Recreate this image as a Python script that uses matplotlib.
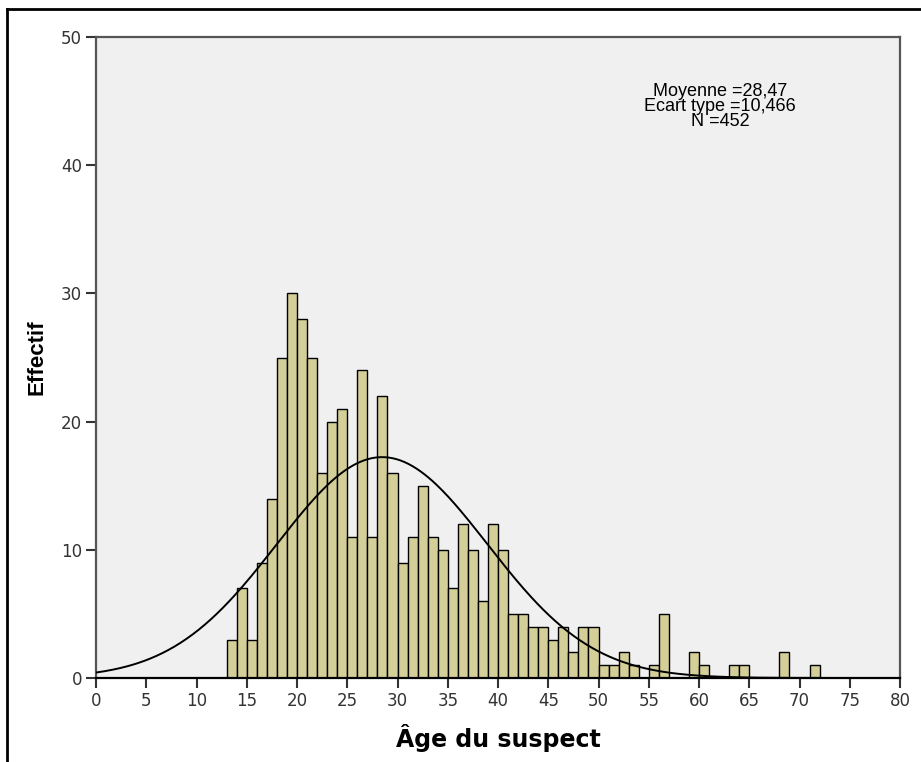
import numpy as np
from matplotlib import pyplot as plt
from matplotlib.lines import Line2D

# age -> count (ages with no bar are simply left out)
ages = [13, 14, 15, 16, 17, 18, 19, 20, 21, 22, 23, 24, 25, 26, 27, 28, 29, 30,
        31, 32, 33, 34, 35, 36, 37, 38, 39, 40, 41, 42, 43, 44, 45, 46, 47, 48,
        49, 50, 51, 52, 53, 55, 56, 59, 60, 63, 64, 68, 71]
counts = [3, 7, 3, 9, 14, 25, 30, 28, 25, 16, 20, 21, 11, 24, 11, 22, 16, 9,
          11, 15, 11, 10, 7, 12, 10, 6, 12, 10, 5, 5, 4, 4, 3, 4, 2, 4,
          4, 1, 1, 2, 1, 1, 5, 2, 1, 1, 1, 2, 1]
mean_age = 28.47
std_age = 10.466
n_total = 452

x_ticks = list(range(0, 85, 5))
y_ticks = [0, 10, 20, 30, 40, 50]

fig = plt.figure(figsize=(9.21, 7.62), dpi=100)
ax = fig.add_axes([96 / 921, 1 - 678 / 762, (900 - 96) / 921, (678 - 37) / 762])
ax.set_facecolor('#f0f0f0')

ax.bar(ages, counts, width=1.0, align='edge', color='#d4cf98',
       edgecolor='black', linewidth=1.0, zorder=2)

# normal curve scaled to the counts
xs = np.linspace(0, 80, 400)
ys = n_total * np.exp(-0.5 * ((xs - mean_age) / std_age) ** 2) / (std_age * np.sqrt(2 * np.pi))
ax.plot(xs, ys, color='black', linewidth=1.4, zorder=3)

ax.set_xlim(0, 80)
ax.set_ylim(0, 50)
ax.set_xticks(x_ticks)
ax.set_yticks(y_ticks)
ax.tick_params(direction='out', length=7, width=1.5, colors='#333333',
               labelsize=12, pad=3)
for side in ['top', 'right', 'left']:
    ax.spines[side].set_color('#555555')
    ax.spines[side].set_linewidth(1.6)
ax.spines['bottom'].set_color('black')
ax.spines['bottom'].set_linewidth(1.6)

ax.set_xlabel('Âge du suspect', fontsize=17, fontweight='bold', labelpad=10)
ax.set_ylabel('Effectif', fontsize=16, fontweight='bold', labelpad=10,
              family='Liberation Sans')

ax.text(0.776, 0.928, 'Moyenne =28,47\nEcart type =10,466\nN =452',
        transform=ax.transAxes, ha='center', va='top', fontsize=13,
        linespacing=0.85, family='Liberation Sans')

# outer frame (top and left edges)
fig.add_artist(Line2D([7 / 921, 1], [1 - 9 / 762, 1 - 9 / 762], color='black', linewidth=2))
fig.add_artist(Line2D([7 / 921, 7 / 921], [0, 1 - 9 / 762], color='black', linewidth=2))

fig.savefig('out.png', dpi=100)
